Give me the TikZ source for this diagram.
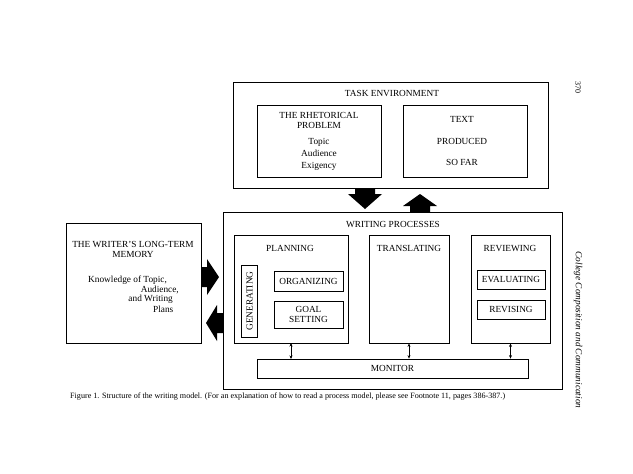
\documentclass[tikz,border=0pt]{standalone}
\usepackage{fontspec}
\setmainfont{Liberation Serif}
\usetikzlibrary{arrows.meta}
\begin{document}
\begin{tikzpicture}[x=1pt,y=-1pt,
  box/.style={draw,line width=0.8pt,rectangle,inner sep=0pt,align=center,font=\fontsize{9.3}{10}\selectfont},
  lbl/.style={font=\fontsize{9.3}{10}\selectfont,inner sep=0pt,align=center},
  fat/.style={fill=black,draw=none},
  dbl/.style={{Stealth[length=3.5pt,width=3pt]}-{Stealth[length=3.5pt,width=3pt]},line width=0.6pt}]
\useasboundingbox (0,0) rectangle (633,474);
% Task environment
\node[box,minimum width=315,minimum height=106] (te) at (390.5,135) {};
\node[lbl] (tet) at (392,93) {TASK ENVIRONMENT};
\node[box,minimum width=124,minimum height=72] (rp) at (319,141) {};
\node[lbl] (rpt) at (319,120) {THE RHETORICAL\\PROBLEM};
\node[lbl,font=\fontsize{9.3}{12}\selectfont] (rpl) at (319,154) {Topic\\Audience\\Exigency};
\node[box,minimum width=124,minimum height=72] (tp) at (465,141) {};
\node[lbl,font=\fontsize{9.3}{21.5}\selectfont] (tpt) at (462,141) {TEXT\\PRODUCED\\SO FAR};
% Writing processes
\node[box,minimum width=339,minimum height=177] (wp) at (392.5,300.5) {};
\node[lbl] (wpt) at (393,224) {WRITING PROCESSES};
\node[box,minimum width=114,minimum height=108] (pl) at (291,289) {};
\node[lbl] (plt) at (290,248) {PLANNING};
\node[box,minimum width=16,minimum height=72] (gen) at (249,301) {};
\node[lbl,rotate=90] (gent) at (249.5,301) {GENERATING};
\node[box,minimum width=69,minimum height=20] (org) at (308.5,281) {ORGANIZING};
\node[box,minimum width=69,minimum height=27] (goal) at (308.5,314.5) {GOAL\\SETTING};
\node[box,minimum width=80,minimum height=108] (tr) at (409,289) {};
\node[lbl] (trt) at (409,248) {TRANSLATING};
\node[box,minimum width=79,minimum height=108] (rv) at (510.5,289) {};
\node[lbl] (rvt) at (510,248) {REVIEWING};
\node[box,minimum width=68,minimum height=19] (ev) at (511,279.5) {EVALUATING};
\node[box,minimum width=68,minimum height=19] (rs) at (511,309.5) {REVISING};
\node[box,minimum width=271,minimum height=19] (mon) at (392.5,368.5) {MONITOR};
% double arrows
\coordinate (pa) at (291,343);
\coordinate (pb) at (291,359);
\draw[dbl] (pa) -- (pb);
\draw[dbl] (tr.south) -- (tr.south |- mon.north);
\draw[dbl] (rv.south) -- (rv.south |- mon.north);
% Long-term memory
\node[box,minimum width=135,minimum height=120] (ltm) at (133.5,283) {};
\node[lbl] (ltmt) at (133,249) {THE WRITER'S LONG-TERM\\MEMORY};
\node[lbl,anchor=west] (k1) at (88,280) {Knowledge of Topic,};
\node[lbl,anchor=east] (k2) at (179,290) {Audience,};
\node[lbl,anchor=east] (k3) at (173,299.5) {and Writing};
\node[lbl,anchor=east] (k4) at (173.5,309) {Plans};
% fat arrows
\fill[fat] (355,188) -- (375,188) -- (375,194) -- (382,194) -- (365,209) -- (348,194) -- (355,194) -- cycle;
\fill[fat] (410,212) -- (430,212) -- (430,206) -- (437,206) -- (420,194) -- (403,206) -- (410,206) -- cycle;
\fill[fat] (201,267) -- (207,267) -- (207,259) -- (219,277) -- (207,295) -- (207,287) -- (201,287) -- cycle;
\fill[fat] (223,313) -- (217,313) -- (217,305) -- (206,323) -- (217,341) -- (217,333) -- (223,333) -- cycle;
% caption and margin
\node[font=\fontsize{8.1}{9}\selectfont,anchor=west,inner sep=0pt] (cap) at (70,397) {Figure 1. Structure of the writing model. (For an explanation of how to read a process model, please see Footnote 11, pages 386-387.)};
\node[font=\fontsize{8}{9}\selectfont,rotate=-90,inner sep=0pt] (pg) at (578,87) {370};
\node[font=\fontsize{9.3}{10}\selectfont\itshape,rotate=-90,inner sep=0pt] (jn) at (578,330) {College Composition and Communication};
\end{tikzpicture}
\end{document}
